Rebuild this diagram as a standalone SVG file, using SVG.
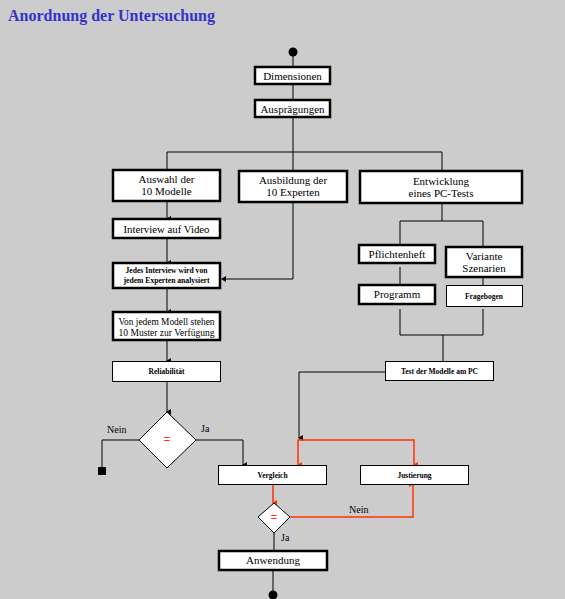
<svg xmlns="http://www.w3.org/2000/svg" width="565" height="599" viewBox="0 0 565 599">
<defs>
<marker id="ab" markerWidth="6" markerHeight="6" refX="3" refY="5" orient="auto-start-reverse" markerUnits="userSpaceOnUse" viewBox="0 0 6 6">
<path d="M0,1 L6,1 L3,6 Z" fill="#000"/>
</marker>
<marker id="ar" markerWidth="6" markerHeight="6" refX="3" refY="5" orient="auto-start-reverse" markerUnits="userSpaceOnUse" viewBox="0 0 6 6">
<path d="M0,1 L6,1 L3,6 Z" fill="#ff3300"/>
</marker>
<marker id="al" markerWidth="6" markerHeight="6" refX="5" refY="3" orient="auto" markerUnits="userSpaceOnUse" viewBox="0 0 6 6">
<path d="M1,0 L1,6 L6,3 Z" fill="#000"/>
</marker>
</defs>
<style>
.bg{fill:#cccccc}
.thick{fill:#fff;stroke:#000;stroke-width:2.5}
.thin{fill:#fff;stroke:#000;stroke-width:1}
.t{font-family:"Liberation Serif","Times New Roman",serif;font-size:11px;fill:#000;text-anchor:middle}
.s{font-family:"Liberation Serif","Times New Roman",serif;font-size:7.5px;font-weight:bold;fill:#000;text-anchor:middle}
.lab{font-family:"Liberation Serif","Times New Roman",serif;font-size:10px;fill:#000}
.eq{font-family:"Liberation Sans",Arial,sans-serif;font-size:11px;fill:#ff3300;text-anchor:middle}
.c{fill:none;stroke:#000;stroke-width:1}
.r{fill:none;stroke:#ff3300;stroke-width:1.5}
.title{font-family:"Liberation Serif","Times New Roman",serif;font-size:16px;font-weight:bold;fill:#3333cc}
</style>
<rect class="bg" x="0" y="0" width="565" height="599"/>
<text class="title" x="8" y="21" textLength="207" lengthAdjust="spacing">Anordnung der Untersuchung</text>

<g id="connectors">
<line class="c" x1="293" y1="52" x2="293" y2="67"/>
<line class="c" x1="293" y1="85" x2="293" y2="100"/>
<line class="c" x1="293" y1="118" x2="293" y2="172"/>
<polyline class="c" points="167,170 167,152 442,152 442,171"/>
<line class="c" x1="167" y1="202" x2="167" y2="219" marker-end="url(#ab)"/>
<line class="c" x1="167" y1="238" x2="167" y2="263" marker-end="url(#ab)"/>
<polyline class="c" points="293,202 293,279 222,279" marker-end="url(#al)"/>
<line class="c" x1="167" y1="288" x2="167" y2="312" marker-end="url(#ab)"/>
<line class="c" x1="167" y1="340" x2="167" y2="361" marker-end="url(#ab)"/>
<line class="c" x1="167" y1="382" x2="167" y2="412" marker-end="url(#ab)"/>
<polyline class="c" points="140,440 102,440 102,467"/>
<polyline class="c" points="196,440 243,440 243,465" marker-end="url(#ab)"/>
<line class="c" x1="442" y1="203" x2="442" y2="221"/>
<polyline class="c" points="400,245 400,221 483,221 483,247"/>
<line class="c" x1="400" y1="267" x2="400" y2="285"/>
<line class="c" x1="483" y1="277" x2="483" y2="285"/>
<polyline class="c" points="400,309 400,335 483,335 483,309"/>
<line class="c" x1="443" y1="335" x2="443" y2="361"/>
<polyline class="c" points="385,372 299,372 299,438" marker-end="url(#ab)"/>
<polyline class="r" points="414,465 414,440 298,440 298,465" marker-start="url(#ar)" marker-end="url(#ar)"/>
<line class="r" x1="273" y1="484" x2="273" y2="503" marker-end="url(#ar)"/>
<polyline class="r" points="290,517 413,517 413,484" marker-end="url(#ar)"/>
<line class="c" x1="274" y1="533" x2="274" y2="551"/>
<line class="c" x1="273" y1="570" x2="273" y2="592"/>
</g>

<g id="start"><circle cx="293" cy="52" r="4.5" fill="#000"/></g>
<g id="dimensionen"><rect class="thick" x="255" y="67" width="75" height="17"/><text class="t" x="292.5" y="80">Dimensionen</text></g>
<g id="auspraegungen"><rect class="thick" x="255" y="100" width="75" height="17"/><text class="t" x="292.5" y="113">Ausprägungen</text></g>
<g id="auswahl"><rect class="thick" x="113" y="170" width="107" height="31"/><text class="t" x="166.5" y="183">Auswahl der</text><text class="t" x="166.5" y="195">10 Modelle</text></g>
<g id="ausbildung"><rect class="thick" x="239" y="171" width="108" height="31"/><text class="t" x="293" y="184">Ausbildung der</text><text class="t" x="293" y="196">10 Experten</text></g>
<g id="entwicklung"><rect class="thick" x="360" y="171" width="162" height="32"/><text class="t" x="441" y="185">Entwicklung</text><text class="t" x="441" y="197">eines PC-Tests</text></g>
<g id="interview"><rect class="thick" x="113" y="219" width="107" height="19"/><text class="t" x="166.5" y="233" textLength="86" lengthAdjust="spacingAndGlyphs">Interview auf Video</text></g>
<g id="jedes"><rect class="thick" x="113" y="263" width="107" height="25"/><text class="s" x="166.5" y="273" textLength="82" lengthAdjust="spacingAndGlyphs">Jedes Interview wird von</text><text class="s" x="166.5" y="283" textLength="86" lengthAdjust="spacingAndGlyphs">jedem Experten analysiert</text></g>
<g id="vonjedem"><rect class="thick" x="113" y="312" width="107" height="28"/><text class="t" x="166.5" y="325" font-size="10" textLength="96" lengthAdjust="spacingAndGlyphs">Von jedem  Modell stehen</text><text class="t" x="166.5" y="336" font-size="10" textLength="96" lengthAdjust="spacingAndGlyphs">10 Muster zur Verfügung</text></g>
<g id="reliabilitaet"><rect class="thin" x="112.5" y="361.5" width="108" height="20"/><text class="s" x="166.5" y="374">Reliabilität</text></g>
<g id="pflichtenheft"><rect class="thick" x="359" y="245" width="76" height="18"/><text class="t" x="397" y="258">Pflichtenheft</text></g>
<g id="variante"><rect class="thick" x="446" y="247" width="76" height="30"/><text class="t" x="484" y="260">Variante</text><text class="t" x="484" y="272">Szenarien</text></g>
<g id="programm"><rect class="thick" x="359" y="285" width="76" height="19"/><text class="t" x="397" y="298">Programm</text></g>
<g id="fragebogen"><rect class="thin" x="446.5" y="285.5" width="76" height="21"/><text class="s" x="484" y="299">Fragebogen</text></g>
<g id="test"><rect class="thin" x="385.5" y="361.5" width="108" height="19"/><text class="s" x="439.5" y="374">Test der Modelle am PC</text></g>
<g id="entscheidung1"><polygon class="thin" points="167,412 196,440 167,468 139,440"/><text class="eq" x="167" y="443">=</text></g>
<g id="nein1"><text class="lab" x="107" y="433">Nein</text><text class="lab" x="201" y="432">Ja</text></g>
<g id="ende1"><rect x="98" y="467" width="8" height="8" fill="#000"/></g>
<g id="vergleich"><rect class="thin" x="218.5" y="465.5" width="108" height="19"/><text class="s" x="272.5" y="478">Vergleich</text></g>
<g id="justierung"><rect class="thin" x="360.5" y="465.5" width="108" height="19"/><text class="s" x="414.5" y="478">Justierung</text></g>
<g id="entscheidung2"><polygon class="thin" points="274,503 290,517 274,533 258,517"/><text class="eq" x="274" y="521">=</text></g>
<g id="labels2"><text class="lab" x="349" y="513">Nein</text><text class="lab" x="281" y="541">Ja</text></g>
<g id="anwendung"><rect class="thick" x="219" y="551" width="108" height="19"/><text class="t" x="273" y="564">Anwendung</text></g>
<g id="ende2"><circle cx="273" cy="595" r="4.5" fill="#000"/></g>
</svg>
